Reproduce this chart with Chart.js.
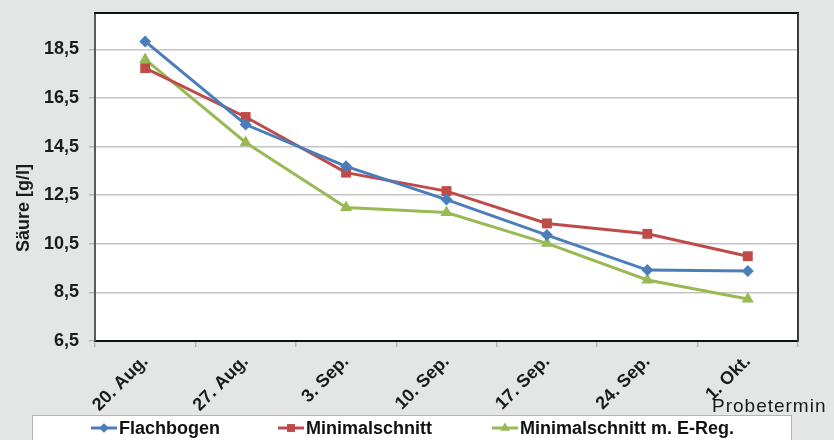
<!DOCTYPE html>
<html>
<head>
<meta charset="utf-8">
<script src="https://cdn.jsdelivr.net/npm/chart.js@4/dist/chart.umd.min.js"></script>
<style>
  html, body { margin: 0; padding: 0; background: #e4e6e5; }
  #wrap { width: 834px; height: 440px; }
</style>
</head>
<body>
<div id="wrap"><canvas id="c" width="834" height="440"></canvas></div>
<script>
// Sampling dates and acid values (g/l) per pruning system
const categories = ['20. Aug.', '27. Aug.', '3. Sep.', '10. Sep.', '17. Sep.', '24. Sep.', '1. Okt.'];
const flachbogen = [18.83, 15.41, 13.69, 12.32, 10.86, 9.42, 9.38];
const minimalschnitt = [17.73, 15.72, 13.43, 12.67, 11.34, 10.91, 9.99];
const minimalschnittEReg = [18.09, 14.67, 11.99, 11.79, 10.52, 9.01, 8.23];
const seriesNames = ['Flachbogen', 'Minimalschnitt', 'Minimalschnitt m. E-Reg.'];
const yTicks = [6.5, 8.5, 10.5, 12.5, 14.5, 16.5, 18.5];
const yMin = 6.5;
const yMax = 20;
const yTitle = 'Säure [g/l]';
const xTitle = 'Probetermin';

const FONT = "'Liberation Sans', Arial, sans-serif";
const colors = ['#4a7ebb', '#be4b48', '#98b954'];
const pointStyles = ['rectRot', 'rect', 'triangle'];
const pointRadii = [6, 7, 7];
const seriesData = [flachbogen, minimalschnitt, minimalschnittEReg];

const datasets = seriesData.map((d, i) => ({
  label: seriesNames[i],
  data: d,
  borderColor: colors[i],
  backgroundColor: colors[i],
  borderWidth: 3,
  pointStyle: pointStyles[i],
  pointRadius: pointRadii[i],
  pointBorderWidth: 0,
  pointBackgroundColor: colors[i],
  tension: 0
}));

// Background, white plot area, frame, axis titles and the boxed legend
const decor = {
  id: 'decor',
  beforeDraw(chart) {
    const { ctx, chartArea: a } = chart;
    ctx.save();
    ctx.fillStyle = '#e4e6e5';
    ctx.fillRect(0, 0, chart.width, chart.height);
    ctx.fillStyle = '#ffffff';
    ctx.fillRect(a.left, a.top, a.right - a.left, a.bottom - a.top);
    ctx.restore();
  },
  beforeDatasetsDraw(chart) {
    const { ctx, chartArea: a } = chart;
    ctx.save();
    ctx.lineWidth = 2;
    ctx.strokeStyle = '#111111';
    ctx.beginPath();
    ctx.moveTo(a.left - 1, a.top);
    ctx.lineTo(a.right + 1, a.top);
    ctx.stroke();
    ctx.strokeStyle = '#3a3a3a';
    ctx.beginPath();
    ctx.moveTo(a.right, a.top);
    ctx.lineTo(a.right, a.bottom);
    ctx.stroke();
    ctx.restore();
  },
  afterDraw(chart) {
    const { ctx } = chart;
    ctx.save();
    // y axis title
    ctx.translate(24, 208);
    ctx.rotate(-Math.PI / 2);
    ctx.fillStyle = '#1a1a1a';
    ctx.font = 'bold 18px ' + FONT;
    ctx.textAlign = 'center';
    ctx.textBaseline = 'middle';
    ctx.fillText(yTitle, 0, 0);
    ctx.restore();

    // x axis title
    ctx.save();
    ctx.fillStyle = '#1a1a1a';
    ctx.font = '19px ' + FONT;
    if ('letterSpacing' in ctx) ctx.letterSpacing = '1px';
    ctx.textAlign = 'left';
    ctx.textBaseline = 'alphabetic';
    ctx.fillText(xTitle, 712, 412);
    ctx.restore();

    // legend box
    ctx.save();
    ctx.fillStyle = '#ffffff';
    ctx.fillRect(32, 415, 759, 30);
    ctx.strokeStyle = '#b4b4b4';
    ctx.lineWidth = 1;
    ctx.strokeRect(32.5, 415.5, 759, 30);
    const starts = [91, 278, 492];
    const ly = 428;
    chart.data.datasets.forEach((ds, i) => {
      const x0 = starts[i];
      ctx.strokeStyle = ds.borderColor;
      ctx.lineWidth = 3;
      ctx.beginPath();
      ctx.moveTo(x0, ly);
      ctx.lineTo(x0 + 26, ly);
      ctx.stroke();
      ctx.fillStyle = ds.borderColor;
      Chart.helpers.drawPoint(ctx, {
        pointStyle: ds.pointStyle, rotation: 0,
        borderWidth: 0, radius: ds.pointRadius * 0.8
      }, x0 + 13, ly);
      ctx.fillStyle = '#111111';
      ctx.font = 'bold 18px ' + FONT;
      ctx.textAlign = 'left';
      ctx.textBaseline = 'middle';
      ctx.fillText(ds.label, x0 + 28, ly + 1);
    });
    ctx.restore();
  }
};

new Chart(document.getElementById('c'), {
  type: 'line',
  data: { labels: categories, datasets },
  plugins: [decor],
  options: {
    responsive: false,
    devicePixelRatio: 1,
    animation: false,
    layout: { padding: { top: 13, right: 36, bottom: 0, left: 0 } },
    plugins: {
      legend: { display: false },
      tooltip: { enabled: false }
    },
    scales: {
      x: {
        type: 'category',
        offset: true,
        grid: {
          offset: true,
          drawOnChartArea: false,
          drawTicks: true,
          tickLength: 6,
          color: '#b5b5b5',
          lineWidth: 1.5
        },
        border: { display: true, color: '#111111', width: 2 },
        ticks: {
          minRotation: 45,
          maxRotation: 45,
          autoSkip: false,
          padding: 4,
          color: '#1a1a1a',
          font: { family: FONT, size: 18, weight: 'bold' }
        },
        afterFit(scale) {
          scale.height = 99;
          scale.paddingLeft = 0;
          scale.paddingRight = 0;
        }
      },
      y: {
        min: yMin,
        max: yMax,
        grid: {
          color: '#c4c4c4',
          lineWidth: 1.5,
          drawTicks: true,
          tickLength: 6,
          tickColor: '#b5b5b5'
        },
        border: { display: true, color: '#5a5a5a', width: 2 },
        afterBuildTicks(scale) {
          scale.ticks = yTicks.map(v => ({ value: v }));
        },
        ticks: {
          padding: 10,
          color: '#1a1a1a',
          font: { family: FONT, size: 18, weight: 'bold' },
          callback: v => Number(v).toFixed(1).replace('.', ',')
        },
        afterFit(scale) {
          scale.width = 95;
          scale.paddingTop = 0;
          scale.paddingBottom = 0;
        }
      }
    }
  }
});
</script>
</body>
</html>
